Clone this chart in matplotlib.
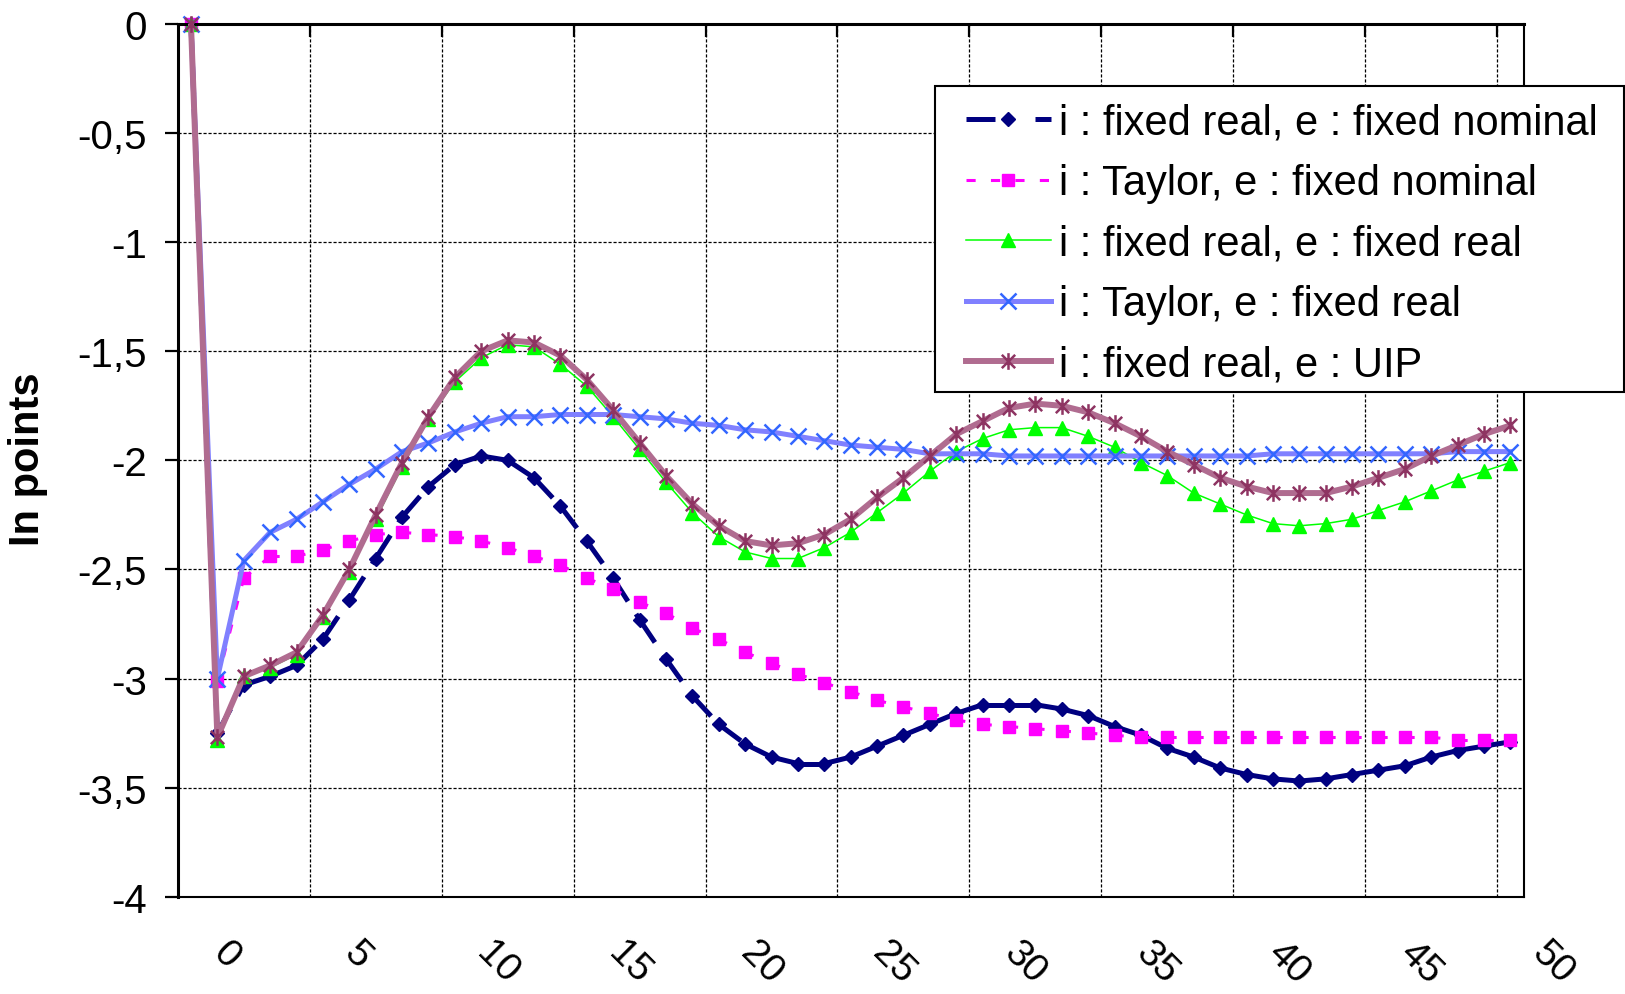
import matplotlib
matplotlib.use('Agg')
import matplotlib.pyplot as plt
import matplotlib.transforms as mtransforms
from matplotlib.collections import LineCollection
from matplotlib.lines import Line2D
from matplotlib.patches import Rectangle
from matplotlib.path import Path
import numpy as np

plt.rcParams['font.family'] = ['Liberation Sans', 'DejaVu Sans']

# quarters: one period before the shock, then 0..49
periods = np.arange(-1, 50)

fixed_real_fixed_nominal = [
    0, -3.25, -3.03, -2.99, -2.94, -2.82, -2.64, -2.45, -2.26, -2.12,
    -2.02, -1.98, -2.00, -2.08, -2.21, -2.37, -2.54, -2.73, -2.91, -3.08,
    -3.21, -3.30, -3.36, -3.39, -3.39, -3.36, -3.31, -3.26, -3.21, -3.16,
    -3.12, -3.12, -3.12, -3.14, -3.17, -3.22, -3.26, -3.32, -3.36, -3.41,
    -3.44, -3.46, -3.47, -3.46, -3.44, -3.42, -3.40, -3.36, -3.33, -3.31,
    -3.29]
taylor_fixed_nominal = [
    0, -3.01, -2.54, -2.44, -2.44, -2.41, -2.37, -2.34, -2.33, -2.34,
    -2.35, -2.37, -2.40, -2.44, -2.48, -2.54, -2.59, -2.65, -2.70, -2.77,
    -2.82, -2.88, -2.93, -2.98, -3.02, -3.06, -3.10, -3.13, -3.16, -3.19,
    -3.21, -3.22, -3.23, -3.24, -3.25, -3.26, -3.27, -3.27, -3.27, -3.27,
    -3.27, -3.27, -3.27, -3.27, -3.27, -3.27, -3.27, -3.27, -3.28, -3.28,
    -3.28]
fixed_real_fixed_real = [
    0, -3.28, -2.99, -2.95, -2.89, -2.72, -2.51, -2.27, -2.03, -1.81,
    -1.64, -1.53, -1.47, -1.48, -1.56, -1.66, -1.80, -1.95, -2.10, -2.24,
    -2.35, -2.42, -2.45, -2.45, -2.40, -2.33, -2.24, -2.15, -2.05, -1.96,
    -1.90, -1.86, -1.85, -1.85, -1.89, -1.94, -2.01, -2.07, -2.15, -2.20,
    -2.25, -2.29, -2.30, -2.29, -2.27, -2.23, -2.19, -2.14, -2.09, -2.05,
    -2.01]
taylor_fixed_real = [
    0, -3.00, -2.46, -2.33, -2.27, -2.19, -2.11, -2.04, -1.96, -1.92,
    -1.87, -1.83, -1.80, -1.80, -1.79, -1.79, -1.79, -1.80, -1.81, -1.83,
    -1.84, -1.86, -1.87, -1.89, -1.91, -1.93, -1.94, -1.95, -1.97, -1.97,
    -1.97, -1.98, -1.98, -1.98, -1.98, -1.98, -1.98, -1.98, -1.98, -1.98,
    -1.98, -1.97, -1.97, -1.97, -1.97, -1.97, -1.97, -1.97, -1.96, -1.96,
    -1.96]
fixed_real_uip = [
    0, -3.27, -2.99, -2.94, -2.88, -2.71, -2.50, -2.25, -2.01, -1.80,
    -1.62, -1.50, -1.45, -1.46, -1.52, -1.63, -1.77, -1.92, -2.07, -2.20,
    -2.30, -2.37, -2.39, -2.38, -2.34, -2.27, -2.17, -2.08, -1.98, -1.88,
    -1.82, -1.76, -1.74, -1.75, -1.78, -1.83, -1.89, -1.96, -2.02, -2.08,
    -2.12, -2.15, -2.15, -2.15, -2.12, -2.08, -2.04, -1.98, -1.93, -1.88,
    -1.84]

labels = ['i : fixed real, e : fixed nominal',
          'i : Taylor, e : fixed nominal',
          'i : fixed real, e : fixed real',
          'i : Taylor, e : fixed real',
          'i : fixed real, e : UIP']
x_ticklabels = ['0', '5', '10', '15', '20', '25', '30', '35', '40', '45', '50']
y_ticks = [0, -0.5, -1, -1.5, -2, -2.5, -3, -3.5, -4]

NAVY = '#000080'
MAGENTA = '#FF00FF'
GREEN = '#00FF00'
BLUE_LINE, BLUE_MARK = '#8080FF', '#3366FF'
PLUM_LINE, PLUM_MARK = '#B06C90', '#8E3462'

# x with a vertical bar, like the spreadsheet asterisk marker
asterisk = Path([(0, -1), (0, 1), (-0.8, -0.8), (0.8, 0.8), (-0.8, 0.8), (0.8, -0.8)],
                [Path.MOVETO, Path.LINETO] * 3)


def segment_line(ax, x, y, color, lw, dashes, zorder):
    # every segment restarts its dash pattern, so short steps look solid
    pts = np.column_stack([x, y])
    segs = np.stack([pts[:-1], pts[1:]], axis=1)
    lc = LineCollection(segs, colors=color, linewidths=lw,
                        linestyles=[(0, dashes)], zorder=zorder)
    ax.add_collection(lc)


fig = plt.figure(figsize=(16.25, 9.95), dpi=100)
ax = fig.add_axes([0.1094, 0.0978, 0.8282, 0.8771])

# series 1 and 2: dashed / dotted, drawn segment by segment
segment_line(ax, periods, fixed_real_fixed_nominal, NAVY, 3.6, (5.5, 3), 2.0)
ax.plot(periods, fixed_real_fixed_nominal, ls='none', marker='D', ms=7.5,
        mfc=NAVY, mec=NAVY, zorder=2.1, clip_on=False)
segment_line(ax, periods, taylor_fixed_nominal, MAGENTA, 2.2, (3, 5), 2.2)
ax.plot(periods, taylor_fixed_nominal, ls='none', marker='s', ms=9,
        mfc=MAGENTA, mec=MAGENTA, zorder=2.3, clip_on=False)

ax.plot(periods, fixed_real_fixed_real, color=GREEN, lw=1.1, marker='^', ms=10.5,
        mfc=GREEN, mec=GREEN, zorder=2.4, clip_on=False)
ax.plot(periods, taylor_fixed_real, color=BLUE_LINE, lw=3.6, zorder=2.5)
ax.plot(periods, taylor_fixed_real, ls='none', marker='x', ms=11.5, mew=1.8,
        mec=BLUE_MARK, zorder=2.6, clip_on=False)
ax.plot(periods, fixed_real_uip, color=PLUM_LINE, lw=4.3, zorder=2.7)
ax.plot(periods, fixed_real_uip, ls='none', marker=asterisk, ms=12, mew=1.8,
        mec=PLUM_MARK, mfc='none', zorder=2.8, clip_on=False)

ax.set_xlim(-1.5, 49.5)
ax.set_ylim(-4, 0)

# horizontal axis crosses at 0, so its ticks sit on the top edge
ax.set_xticks(np.arange(3.5, 49, 5))
ax.tick_params(axis='x', which='both', top=True, bottom=False, direction='in',
               length=9.4, width=1.6, labeltop=False, labelbottom=False)
ax.set_yticks(y_ticks)
ax.set_yticklabels([f'{v:g}'.replace('.', ',') for v in y_ticks])
ax.tick_params(axis='y', direction='out', length=9.4, width=1.6,
               labelsize=29, pad=13)
ax.grid(True, color='black', linestyle=(0, (2.5, 1.5)), linewidth=0.9)
ax.set_axisbelow(True)

for side in ['left', 'top']:
    ax.spines[side].set_linewidth(2.2)
for side in ['right', 'bottom']:
    ax.spines[side].set_linewidth(1.5)

# category labels sit low, below the plot area
lab_trans = mtransforms.offset_copy(ax.get_xaxis_transform(), fig=fig,
                                    x=-12, y=0, units='dots')
for lab in x_ticklabels:
    ax.text(int(lab), -0.0425, lab, transform=lab_trans, rotation=-45,
            ha='left', va='top', fontsize=28)

ax.set_ylabel('In points', fontsize=30, fontweight='bold', va='center')
ax.yaxis.set_label_coords(-0.111, 0.503)

handles = [
    Line2D([], [], color=NAVY, lw=3.6, dashes=(5.8, 8.0), marker='D', ms=7.5,
           mfc=NAVY, mec=NAVY),
    Line2D([], [], color=MAGENTA, lw=2.2, dashes=(3, 5), marker='s', ms=9,
           mfc=MAGENTA, mec=MAGENTA),
    Line2D([], [], color=GREEN, lw=1.1, marker='^', ms=10.5, mfc=GREEN, mec=GREEN),
    Line2D([], [], color=BLUE_LINE, lw=3.6, marker='x', ms=11.5, mew=1.8,
           mec=BLUE_MARK),
    Line2D([], [], color=PLUM_LINE, lw=4.3, marker=asterisk, ms=12, mew=1.8,
           mec=PLUM_MARK, mfc='none'),
]

frame = Rectangle((935 / 1625, 1 - 393.3 / 995), 689 / 1625, 306 / 995,
                  transform=fig.transFigure, facecolor='white',
                  edgecolor='black', linewidth=1.5, zorder=4, clip_on=False)
ax.add_artist(frame)
ax.legend(handles=handles, labels=labels, loc='upper left',
          bbox_to_anchor=(965.5 / 1625, 1 - 104 / 995),
          bbox_transform=fig.transFigure, frameon=False, fontsize=30,
          handlelength=2.05, handletextpad=0.2, labelspacing=0.49,
          borderpad=0, borderaxespad=0, numpoints=1)

fig.savefig('out.png', dpi=100)
